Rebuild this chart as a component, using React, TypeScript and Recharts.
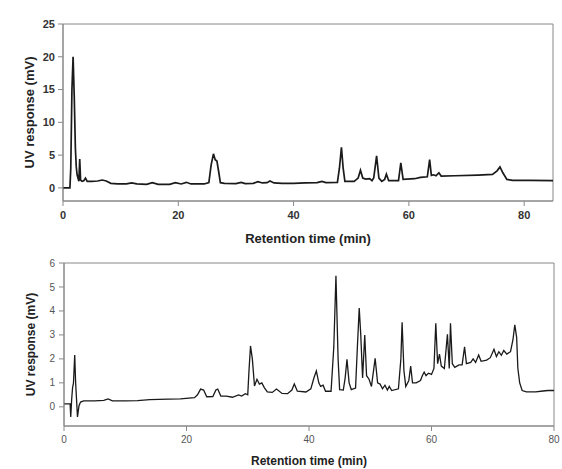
import { LineChart, Line, XAxis, YAxis, ReferenceArea } from "recharts";

// upper chromatogram
const topTime = [
  0, 1.2, 1.35, 1.55, 1.75, 1.95, 2.15, 2.3, 2.45, 2.6, 2.75, 2.9, 3.05, 3.3, 3.6, 3.9, 4.2, 5.0, 6.0, 6.8,
  7.5, 8.3, 9.5, 11.0, 11.9, 12.8, 14.5, 15.5, 16.5, 18.5, 19.5, 20.5, 21.4, 22.2, 24.5, 25.3, 25.7, 26.1, 26.4, 26.7,
  27.0, 27.3, 28, 30, 30.9, 31.6, 33.0, 33.8, 34.6, 35.4, 35.9, 36.6, 38, 40, 42, 44.1, 44.9, 45.6, 47.6, 47.95,
  48.3, 48.6, 48.9, 50.5, 51.2, 51.6, 52.0, 52.5, 53.2, 53.6, 53.9, 54.4, 54.8, 55.3, 55.8, 56.1, 56.5, 58.2, 58.6, 59.0,
  61.0, 62.0, 63.2, 63.6, 63.9, 64.3, 64.7, 65.2, 65.6, 68, 72, 74.5, 75.3, 75.8, 76.3, 77.0, 78, 81, 85,
];
const topSignal = [
  0, 0, 3, 15, 20, 14, 6, 3.2, 2.0, 1.5, 1.0, 4.4, 1.2, 1.0, 1.1, 1.5, 1.0, 1.0, 1.05, 1.2,
  1.05, 0.7, 0.6, 0.6, 0.75, 0.6, 0.55, 0.8, 0.55, 0.55, 0.8, 0.6, 0.85, 0.6, 0.6, 0.8, 3.5, 5.2, 4.3, 4.1,
  2.5, 0.8, 0.7, 0.65, 0.85, 0.65, 0.7, 0.95, 0.75, 0.8, 1.05, 0.75, 0.7, 0.7, 0.75, 0.8, 1.0, 0.8, 0.85, 3.0,
  6.2, 3.0, 1.0, 1.0, 1.5, 2.7, 1.5, 1.35, 1.4, 1.1, 1.5, 4.9, 1.5, 1.0, 1.3, 2.1, 1.1, 1.1, 3.8, 1.3,
  1.4, 1.6, 1.7, 4.3, 1.9, 2.0, 1.85, 2.3, 1.8, 1.85, 1.95, 2.05, 2.6, 3.2, 2.3, 1.3, 1.15, 1.15, 1.1,
];

// lower chromatogram
const bottomTime = [
  0, 1.0, 1.1, 1.25, 1.4, 1.55, 1.75, 1.9, 2.05, 2.2, 2.45, 2.7, 3.2, 5.0, 6.5, 7.2, 7.9, 10, 12, 14,
  17, 19, 21.3, 21.8, 22.3, 22.8, 23.3, 24.3, 24.8, 25.1, 25.6, 26.5, 27.5, 28.5, 29.0, 29.6, 30.0, 30.2, 30.45, 30.75,
  31.1, 31.5, 31.9, 32.3, 32.7, 33.2, 34.0, 34.7, 35.6, 36.5, 37.2, 37.6, 38.1, 39.5, 40.3, 40.8, 41.2, 41.6, 41.9, 42.3,
  42.7, 43.6, 44.05, 44.4, 44.75, 45.0, 45.6, 45.9, 46.2, 46.55, 46.9, 47.6, 47.9, 48.2, 48.45, 48.75, 49.1, 49.4, 49.8, 50.2,
  50.8, 51.2, 51.6, 52.0, 52.4, 52.8, 53.1, 53.5, 54.6, 55.0, 55.2, 55.5, 55.8, 56.3, 56.6, 56.9, 57.5, 58.2, 58.5, 58.8,
  59.1, 59.5, 60.0, 60.4, 60.7, 61.0, 61.3, 61.6, 62.1, 62.6, 62.9, 63.1, 63.4, 63.8, 64.5, 65.0, 65.4, 65.7, 66.4, 66.8,
  67.2, 67.7, 68.1, 69.0, 69.6, 70.2, 70.6, 71.0, 71.4, 71.8, 72.3, 72.9, 73.3, 73.6, 73.9, 74.1, 74.4, 74.8, 75.5, 77,
  78.2, 79, 80,
];
const bottomSignal = [
  0.12, 0.12, -0.42, 0.3, 0.8, 1.0, 2.16, 1.0, 0.3, -0.42, 0.05, 0.2, 0.25, 0.25, 0.27, 0.33, 0.25, 0.25, 0.26, 0.3,
  0.32, 0.33, 0.38, 0.5, 0.74, 0.7, 0.42, 0.43, 0.7, 0.74, 0.45, 0.45, 0.4, 0.5, 0.45, 0.55, 0.5, 1.5, 2.54, 2.0,
  0.87, 1.15, 0.95, 1.0, 0.8, 0.62, 0.6, 0.74, 0.56, 0.55, 0.7, 0.95, 0.65, 0.62, 0.75, 1.2, 1.5, 1.0, 0.85, 0.9,
  0.65, 0.65, 2.5, 5.47, 2.0, 0.72, 0.7, 1.2, 1.98, 1.0, 0.72, 0.78, 2.5, 4.12, 3.0, 1.2, 3.0, 1.3, 1.15, 0.85,
  2.02, 1.0, 0.95, 0.75, 0.9, 0.7, 0.85, 0.68, 0.75, 2.0, 3.53, 1.5, 0.85, 1.1, 1.7, 1.0, 1.0, 1.1, 1.3, 1.45,
  1.3, 1.4, 1.35, 1.6, 3.49, 1.8, 2.2, 1.7, 1.6, 3.03, 1.6, 3.49, 1.8, 1.65, 1.75, 1.75, 2.5, 1.8, 1.85, 2.0,
  1.85, 2.16, 1.9, 1.95, 2.05, 2.4, 2.1, 2.3, 2.15, 2.35, 2.2, 2.3, 2.8, 3.42, 2.9, 1.6, 1.0, 0.68, 0.62, 0.62,
  0.66, 0.68, 0.68,
];

const xTicks = [0, 20, 40, 60, 80];
const topYTicks = [0, 5, 10, 15, 20, 25];
const bottomYTicks = [0, 1, 2, 3, 4, 5, 6];

const topData = topTime.map((t, i) => ({ t, v: topSignal[i] }));
const bottomData = bottomTime.map((t, i) => ({ t, v: bottomSignal[i] }));

const font = "'Liberation Sans', Arial, sans-serif";
const frame = "#888";

export default function App() {
  return (
    <div style={{ position: "absolute", left: 0, top: 0, width: 562, height: 469, background: "#fff", fontFamily: font }}>
      <LineChart width={562} height={249} data={topData} margin={{ top: 24, right: 9, bottom: 0, left: 0 }}>
        <XAxis
          dataKey="t"
          type="number"
          domain={[0, 85]}
          ticks={xTicks}
          allowDataOverflow
          height={48}
          tickSize={5}
          tickMargin={5}
          axisLine={{ stroke: frame }}
          tickLine={{ stroke: frame }}
          tick={{ fontSize: 11, fontWeight: "bold", fill: "#333", fontFamily: font }}
          label={{ value: "Retention time (min)", position: "insideBottom", offset: 6, fontSize: 13, fontWeight: "bold", fill: "#222", fontFamily: font }}
        />
        <YAxis
          type="number"
          domain={[-2, 25]}
          ticks={topYTicks}
          allowDataOverflow
          width={63}
          tickSize={5}
          tickMargin={3}
          axisLine={{ stroke: frame }}
          tickLine={{ stroke: frame }}
          tick={{ fontSize: 11, fontWeight: "bold", fill: "#333", fontFamily: font }}
          label={{ value: "UV response (mV)", angle: -90, position: "insideLeft", offset: 29, fontSize: 13, fontWeight: "bold", fill: "#222", fontFamily: font, style: { textAnchor: "middle" } }}
        />
        <ReferenceArea x1={0} x2={85} y1={-2} y2={25} fill="none" stroke={frame} strokeWidth={1} />
        <Line type="linear" dataKey="v" stroke="#1a1a1a" strokeWidth={1.7} dot={false} isAnimationActive={false} />
      </LineChart>
      <LineChart width={562} height={220} data={bottomData} margin={{ top: 14, right: 8, bottom: 0, left: 0 }}>
        <XAxis
          dataKey="t"
          type="number"
          domain={[0, 80]}
          ticks={xTicks}
          allowDataOverflow
          height={43}
          tickSize={5}
          tickMargin={5}
          axisLine={{ stroke: frame }}
          tickLine={{ stroke: frame }}
          tick={{ fontSize: 10, fill: "#555", fontFamily: font }}
          label={{ value: "Retention time (min)", position: "insideBottom", offset: 4, fontSize: 12, fontWeight: "bold", fill: "#222", fontFamily: font }}
        />
        <YAxis
          type="number"
          domain={[-0.8, 6]}
          ticks={bottomYTicks}
          allowDataOverflow
          width={64}
          tickSize={5}
          tickMargin={4}
          axisLine={{ stroke: frame }}
          tickLine={{ stroke: frame }}
          tick={{ fontSize: 10, fill: "#555", fontFamily: font }}
          label={{ value: "UV response (mV)", angle: -90, position: "insideLeft", offset: 31, fontSize: 12, fontWeight: "bold", fill: "#222", fontFamily: font, style: { textAnchor: "middle" } }}
        />
        <ReferenceArea x1={0} x2={80} y1={-0.8} y2={6} fill="none" stroke={frame} strokeWidth={1} />
        <Line type="linear" dataKey="v" stroke="#1a1a1a" strokeWidth={1.3} dot={false} isAnimationActive={false} />
      </LineChart>
    </div>
  );
}
